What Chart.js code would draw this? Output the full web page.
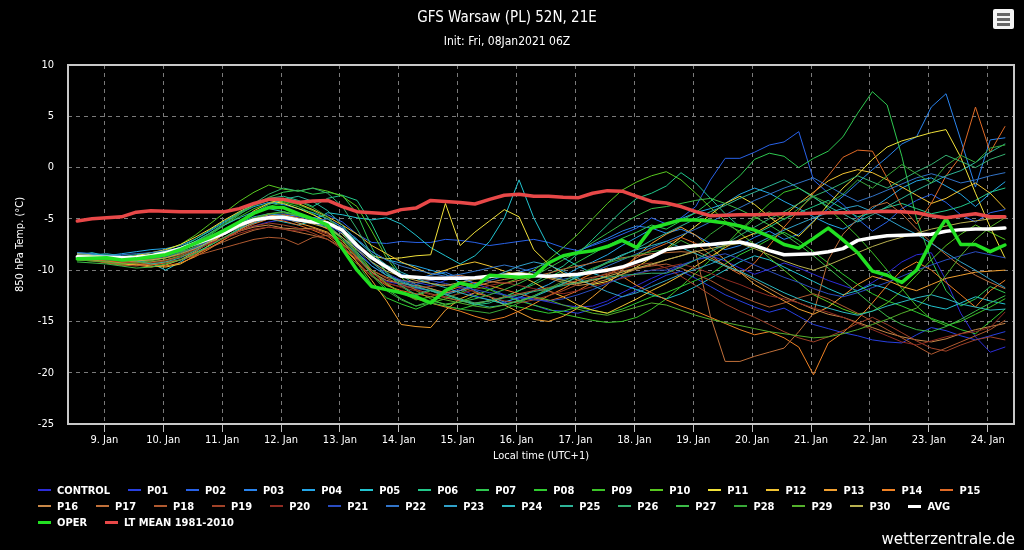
<!DOCTYPE html>
<html>
<head>
<meta charset="utf-8">
<title>GFS Warsaw (PL) 52N, 21E</title>
<script src="https://cdn.jsdelivr.net/npm/chart.js@4.4.1/dist/chart.umd.min.js"></script>
<style>
  html, body { margin: 0; padding: 0; background: #000; }
  #wrap { position: relative; width: 1024px; height: 550px; background: #000; overflow: hidden; }
  #chart { position: absolute; left: 0; top: 0; }
  #legend {
    position: absolute; left: 38px; top: 482px; width: 980px;
    display: flex; flex-wrap: wrap;
    font: bold 11px 'DejaVu Sans Condensed', 'DejaVu Sans', sans-serif; color: #fff;
  }
  .item { display: flex; align-items: center; height: 16px; margin-right: 18px; white-space: nowrap; }
  .sym { width: 13px; height: 2px; margin-right: 6px; }
  .brk { flex-basis: 100%; height: 0; }
  #menu { position: absolute; left: 993px; top: 9px; width: 21px; height: 20px; background: #f4f4f4; border-radius: 2px; }
  #menu div { position: absolute; left: 4px; width: 13px; height: 3px; background: #666; }
  #credit { position: absolute; right: 9px; top: 530px; font: 15px 'DejaVu Sans', sans-serif; color: #fff; }
</style>
</head>
<body>
<div id="wrap">
  <canvas id="chart" width="1024" height="550"></canvas>
  <div id="menu"><div style="top:4px"></div><div style="top:9px"></div><div style="top:14px"></div></div>
  <div id="legend"></div>
  <div id="credit">wetterzentrale.de</div>
</div>
<script>
// hours after 9 Jan 00:00 local time, 6-hourly steps
const HOURS = [-11, -5, 1, 7, 13, 19, 25, 31, 37, 43, 49, 55, 61, 67, 73, 79,
  85, 91, 97, 103, 109, 115, 121, 127, 133, 139, 145, 151, 157, 163, 169, 175,
  181, 187, 193, 199, 205, 211, 217, 223, 229, 235, 241, 247, 253, 259, 265, 271,
  277, 283, 289, 295, 301, 307, 313, 319, 325, 331, 337, 343, 349, 355, 361, 367];
const DAY_TICKS = [0, 24, 48, 72, 96, 120, 144, 168, 192, 216, 240, 264, 288, 312, 336, 360];
const DAY_LABELS = ['9. Jan', '10. Jan', '11. Jan', '12. Jan', '13. Jan', '14. Jan', '15. Jan', '16. Jan',
  '17. Jan', '18. Jan', '19. Jan', '20. Jan', '21. Jan', '22. Jan', '23. Jan', '24. Jan'];

const CONTROL = [-8.8,-8.9,-9.0,-9.1,-9.0,-8.9,-8.7, -8.3,-7.9,-7.3,-6.8,-6.2,-5.7,-5.3,-5.1, -5.2,-5.4,-5.6,-6.8, -8.5,-10.2,-11.1,-11.4,-11.8,
  -12.0,-12.3,-11.8,-12.5,-12.9,-13.2,-12.6,-12.8,-13.1,-13.4,-13.6,-13.5,-13.0,-12.2,-11.5,-10.8,
  -10.2,-9.6,-9.0,-8.6,-9.1,-9.8,-10.4,-9.9,-9.3,-9.8,-10.4,-11.0,-11.5,-12.0,-11.2,-10.3,-9.2,-8.5,-8.3,-11.0,-14.2,-16.5,-18.0,-17.5];
const P01 = [-8.6,-8.7,-8.9,-9.0,-9.2,-9.0,-8.6, -8.0,-7.6,-7.2,-6.5,-5.8,-5.2,-4.7,-4.5, -4.8,-5.0,-5.4,-6.5, -8.0,-9.6,-10.5,-11.0,-11.2,
  -11.5,-11.0,-10.6,-11.3,-11.8,-12.4,-12.9,-13.4,-13.9,-14.0,-14.2,-13.8,-13.3,-12.6,-12.0,-11.2,
  -10.5,-10.1,-10.8,-11.6,-12.4,-13.0,-13.6,-14.1,-13.7,-14.5,-15.3,-15.7,-16.1,-16.4,-16.8,-17.0,-17.1,-16.3,-15.6,-15.9,-16.4,-16.8,-16.4,-16.0];
const P02 = [-8.5,-8.6,-8.8,-8.9,-8.8,-8.6,-8.4, -8.0,-7.4,-6.7,-6.1,-5.5,-5.0,-4.6,-4.9, -5.1,-4.9,-4.6,-5.3, -6.5,-7.3,-7.4,-7.2,-7.3,
  -7.3,-7.0,-7.1,-7.3,-7.6,-7.4,-7.2,-7.0,-7.3,-7.8,-8.1,-7.6,-7.1,-6.5,-5.9,-4.9,
  -5.5,-4.9,-3.8,-1.2,0.9,0.9,1.5,2.2,2.5,3.5,-1.2,-2.5,-3.6,-5.0,-6.2,-5.3,-4.0,-3.2,-2.6,-3.4,-4.6,-5.3,-4.4,-4.1];
const P03 = [-8.4,-8.5,-8.6,-8.7,-8.9,-8.7,-8.5, -8.2,-7.8,-7.0,-6.4,-5.9,-5.4,-5.0,-4.8, -4.6,-4.9,-5.3,-6.0, -7.4,-8.9,-9.8,-10.4,-10.8,
  -10.5,-10.2,-10.8,-11.3,-11.0,-10.6,-10.2,-9.8,-9.3,-8.7,-8.2,-7.5,-6.9,-6.2,-5.7,-5.9,
  -6.4,-6.0,-6.6,-7.4,-8.0,-7.6,-6.8,-6.2,-7.0,-6.5,-5.2,-4.0,-2.8,-1.5,-0.2,1.0,2.3,3.0,5.9,7.2,2.7,-1.9,2.7,2.9];
const P04 = [-8.3,-8.4,-8.6,-8.4,-8.2,-8.0,-7.9, -7.6,-7.0,-6.2,-5.3,-4.5,-3.8,-3.4,-3.6, -4.0,-4.4,-5.0,-5.8, -7.0,-8.2,-9.0,-9.3,-9.6,
  -10.0,-10.4,-11.2,-12.0,-12.6,-13.1,-12.7,-12.0,-11.4,-10.6,-9.8,-9.2,-8.5,-7.6,-6.8,-6.0,
  -5.5,-5.0,-4.4,-4.0,-3.5,-2.6,-2.0,-2.5,-3.3,-4.0,-4.8,-5.5,-6.0,-5.2,-4.0,-3.0,-2.0,-1.3,-1.0,-1.8,-2.6,-3.8,-2.5,-1.4];
const P05 = [-8.5,-8.3,-8.6,-8.8,-9.0,-9.3,-10.0, -9.2,-8.3,-7.6,-6.8,-6.0,-5.4,-5.0,-5.3, -5.6,-5.2,-4.4,-4.6, -4.9,-5.1,-4.9,-5.5,-6.6,
  -7.8,-8.6,-9.4,-8.6,-7.2,-4.9,-1.2,-4.9,-7.7,-8.8,-9.6,-10.3,-10.8,-11.4,-11.9,-12.4,
  -12.8,-12.3,-11.6,-10.8,-10.0,-9.2,-8.6,-9.0,-9.7,-10.4,-11.1,-11.8,-12.4,-12.0,-11.4,-11.8,-12.5,-13.0,-13.5,-13.8,-13.2,-12.6,-13.0,-13.3];
const P06 = [-8.7,-8.6,-8.5,-8.7,-8.5,-8.3,-8.2, -7.8,-7.0,-6.1,-5.2,-4.4,-3.6,-3.0,-2.8, -3.2,-3.8,-3.0,-2.7, -3.2,-5.5,-8.4,-10.5,-11.4,
  -11.8,-12.3,-12.9,-13.4,-13.2,-12.6,-12.0,-11.2,-10.4,-9.6,-8.4,-7.0,-5.6,-4.2,-3.0,-2.5,
  -1.8,-0.5,-1.5,-3.0,-4.5,-5.8,-6.5,-5.8,-5.0,-4.4,-3.8,-3.2,-4.0,-4.8,-4.4,-3.9,-3.5,-4.0,-4.5,-4.2,-3.8,-3.2,-2.4,-2.0];
const P07 = [-8.9,-9.0,-9.2,-9.4,-9.1,-8.9,-8.6, -8.2,-7.5,-6.6,-5.6,-4.6,-3.6,-2.9,-2.4, -2.2,-2.6,-2.4,-2.7, -4.5,-7.8,-10.3,-11.6,-12.5,
  -12.0,-12.6,-13.0,-13.3,-13.0,-12.6,-12.0,-11.4,-10.7,-10.0,-9.2,-8.4,-7.6,-6.9,-6.3,-5.6,
  -6.0,-5.2,-4.4,-3.3,-2.0,-0.8,0.8,1.4,1.1,0.0,0.9,1.6,3.0,5.3,7.4,6.1,1.1,-5.0,-9.0,-12.0,-13.5,-12.8,-11.6,-12.2];
const P08 = [-9.0,-9.1,-9.2,-9.3,-9.5,-9.2,-9.0, -8.6,-8.0,-7.2,-6.3,-5.4,-4.5,-3.8,-3.4, -3.8,-4.5,-5.5,-7.0, -9.3,-11.4,-12.7,-13.3,-13.8,
  -13.2,-13.5,-13.8,-13.4,-12.9,-13.3,-13.6,-13.9,-14.2,-14.0,-13.6,-13.9,-14.2,-13.8,-13.2,-12.6,
  -12.2,-11.6,-11.0,-10.4,-9.4,-8.5,-7.8,-7.0,-6.3,-7.1,-8.2,-9.3,-10.4,-11.4,-12.3,-13.0,-13.5,-14.1,-14.7,-15.2,-15.8,-16.2,-15.0,-13.8];
const P09 = [-8.8,-8.9,-9.1,-9.2,-9.0,-8.8,-8.4, -7.9,-7.2,-6.4,-5.6,-4.8,-4.0,-3.5,-3.3, -3.6,-4.2,-5.0,-6.2, -8.2,-10.0,-11.3,-12.2,-12.7,
  -13.2,-12.8,-12.2,-11.6,-11.9,-12.5,-13.0,-13.4,-13.8,-14.3,-14.6,-14.9,-15.1,-15.0,-14.6,-13.8,
  -12.8,-11.6,-10.3,-9.0,-7.6,-6.1,-4.8,-3.5,-2.4,-2.0,-2.8,-4.0,-5.3,-6.7,-8.3,-10.0,-11.8,-13.5,-14.8,-15.4,-15.0,-14.3,-13.6,-12.8];
const P10 = [-8.6,-8.7,-8.9,-8.8,-8.7,-8.5,-8.1, -7.5,-6.6,-5.5,-4.4,-3.3,-2.4,-1.7,-2.1, -2.3,-2.0,-2.3,-2.8, -3.8,-6.2,-8.8,-10.7,-12.0,
  -12.8,-13.4,-13.1,-12.5,-11.9,-11.3,-10.8,-10.0,-9.0,-7.8,-6.5,-5.0,-3.5,-2.2,-1.4,-0.8,
  -0.4,-1.2,-2.5,-3.9,-5.2,-6.4,-7.5,-8.8,-10.0,-11.2,-12.4,-13.1,-13.8,-14.3,-14.0,-13.2,-12.0,-10.5,-9.0,-7.6,-6.5,-5.6,-6.3,-7.0];
const P11 = [-8.4,-8.5,-8.7,-8.9,-8.6,-8.3,-8.0, -7.5,-6.8,-6.0,-5.1,-4.3,-3.6,-3.2,-3.5, -4.0,-4.6,-5.3,-6.5, -7.8,-8.6,-8.9,-8.8,-8.6,
  -8.5,-3.5,-7.6,-6.3,-5.2,-4.1,-4.8,-8.0,-9.4,-10.3,-11.0,-11.4,-11.1,-10.4,-9.7,-8.8,
  -7.9,-6.8,-5.7,-4.6,-3.5,-2.8,-3.6,-4.8,-5.9,-6.7,-5.3,-3.6,-2.0,-0.7,0.8,2.0,2.6,3.0,3.4,3.7,1.0,-2.5,-5.8,-8.8];
const P12 = [-8.9,-9.0,-9.3,-9.5,-9.4,-9.6,-9.7, -9.4,-8.6,-7.5,-6.4,-5.3,-4.2,-3.5,-3.2, -3.5,-4.1,-4.8,-5.6, -6.5,-7.6,-8.4,-9.2,-9.8,
  -10.4,-10.0,-9.5,-9.2,-9.6,-10.1,-10.5,-11.2,-12.0,-12.6,-13.4,-13.9,-14.2,-13.5,-12.8,-12.0,
  -11.3,-10.5,-9.6,-8.7,-7.8,-7.0,-6.4,-5.6,-4.7,-3.5,-2.4,-1.3,-0.6,-0.2,-0.5,-1.2,-1.9,-2.7,-3.5,-3.0,-2.2,-1.5,-2.5,-4.0];
const P13 = [-8.7,-8.8,-9.0,-9.3,-9.5,-9.7,-9.5, -9.0,-8.2,-7.3,-6.5,-5.7,-5.0,-4.6,-4.9, -5.4,-5.8,-6.3,-7.5, -9.2,-11.0,-13.0,-15.3,-15.5,
  -15.6,-13.9,-12.8,-12.2,-12.6,-13.4,-14.1,-14.8,-15.0,-14.5,-13.7,-12.6,-11.4,-10.0,-8.6,-7.4,
  -6.5,-5.8,-6.6,-7.8,-9.0,-10.2,-11.4,-12.2,-13.0,-13.8,-14.3,-13.6,-12.5,-11.4,-10.6,-11.0,-11.6,-12.0,-11.4,-10.8,-10.5,-10.2,-10.1,-10.0];
const P14 = [-8.6,-8.8,-9.1,-9.3,-9.2,-9.4,-9.6, -9.3,-8.7,-7.9,-7.0,-6.1,-5.3,-4.8,-4.6, -4.9,-5.3,-6.0,-7.2, -8.7,-10.2,-11.4,-12.2,-12.8,
  -13.2,-13.6,-14.0,-14.5,-14.9,-14.6,-14.0,-13.3,-12.5,-11.8,-11.0,-10.3,-9.8,-10.6,-11.5,-12.2,
  -12.9,-13.5,-14.0,-14.6,-15.2,-15.8,-16.3,-16.0,-16.6,-17.5,-20.2,-17.1,-16.1,-14.8,-13.2,-11.5,-10.0,-9.2,-10.0,-11.2,-12.4,-13.6,-12.0,-11.0];
const P15 = [-8.8,-8.9,-9.1,-9.2,-9.4,-9.5,-9.3, -9.0,-8.5,-7.8,-7.0,-6.2,-5.5,-5.0,-5.2, -5.6,-6.1,-6.7,-7.8, -9.2,-10.6,-11.5,-12.0,-12.3,
  -12.6,-12.1,-11.6,-11.2,-11.5,-11.9,-12.3,-12.7,-13.0,-12.6,-12.0,-11.2,-10.5,-9.7,-8.8,-8.0,
  -7.4,-6.8,-7.4,-8.5,-9.6,-10.4,-9.3,-7.6,-5.8,-4.2,-2.5,-0.8,1.0,1.7,1.6,-1.0,-3.8,-5.5,-3.5,-0.8,1.1,5.9,1.5,4.0];
const P16 = [-8.9,-9.0,-9.2,-9.3,-9.1,-9.0,-8.8, -8.5,-8.0,-7.4,-6.8,-6.2,-5.8,-5.6,-5.9, -6.0,-5.9,-6.4,-7.4, -8.8,-10.2,-11.0,-11.3,-11.5,
  -11.8,-12.2,-12.0,-11.6,-11.2,-10.9,-10.7,-10.5,-10.8,-11.2,-11.5,-11.3,-10.9,-10.4,-9.9,-9.5,
  -9.0,-8.6,-8.1,-8.8,-9.5,-10.2,-11.0,-11.8,-12.6,-13.2,-13.8,-14.3,-14.6,-15.1,-15.6,-16.1,-16.5,-16.8,-17.0,-16.7,-16.2,-15.8,-15.5,-15.2];
const P17 = [-8.7,-8.8,-9.0,-9.1,-9.3,-9.2,-9.0, -8.7,-8.3,-7.8,-7.2,-6.6,-6.1,-5.8,-6.0, -6.3,-6.6,-7.0,-7.8, -8.9,-10.0,-10.7,-11.0,-11.2,
  -11.0,-10.7,-10.5,-10.8,-11.1,-11.3,-11.0,-10.6,-10.3,-9.9,-9.6,-9.3,-9.0,-8.8,-8.6,-8.4,
  -8.3,-8.2,-8.3,-14.5,-18.9,-18.9,-18.4,-18.0,-17.6,-16.0,-14.2,-9.0,-6.5,-5.0,-3.8,-3.4,-4.5,-6.0,-7.3,-8.5,-9.6,-10.5,-11.2,-11.8];
const P18 = [-9.0,-9.1,-9.3,-9.5,-9.6,-9.4,-9.2, -9.0,-8.6,-8.2,-7.8,-7.4,-7.0,-6.8,-6.9, -7.5,-6.8,-6.6,-7.4, -8.8,-10.0,-10.8,-11.4,-11.9,
  -12.3,-12.7,-13.0,-13.2,-13.0,-12.6,-12.3,-12.0,-11.7,-11.4,-11.0,-10.7,-10.4,-10.1,-9.8,-9.6,
  -9.4,-9.8,-10.4,-11.0,-11.8,-12.5,-13.1,-13.6,-13.2,-12.7,-12.3,-12.8,-13.5,-14.2,-15.0,-15.8,-16.6,-17.4,-18.2,-17.6,-17.0,-16.4,-15.8,-14.9];
const P19 = [-8.8,-8.9,-9.0,-9.2,-9.3,-9.3,-9.1, -8.7,-8.1,-7.4,-6.8,-6.2,-5.7,-5.4,-5.6, -5.9,-6.4,-7.0,-8.0, -9.4,-10.6,-11.3,-11.6,-11.7,
  -11.6,-11.4,-11.7,-12.1,-12.6,-13.0,-13.2,-12.9,-12.5,-12.0,-11.4,-10.8,-10.3,-9.9,-9.5,-9.3,
  -9.8,-10.6,-11.5,-12.4,-13.3,-14.0,-14.6,-15.3,-16.0,-16.6,-17.0,-16.5,-15.9,-15.2,-14.6,-15.3,-16.1,-16.9,-17.6,-17.9,-17.3,-16.8,-16.5,-16.8];
const P20 = [-8.6,-8.7,-8.8,-9.0,-9.1,-9.0,-8.8, -8.5,-8.0,-7.4,-6.9,-6.4,-6.0,-5.8,-6.0, -6.2,-6.0,-6.5,-7.6, -9.0,-10.3,-11.2,-11.7,-12.0,
  -12.4,-12.6,-12.3,-11.9,-11.5,-11.2,-11.5,-11.8,-12.1,-12.3,-12.0,-11.6,-11.2,-10.8,-10.4,-10.0,
  -9.7,-9.4,-9.8,-10.3,-10.9,-11.4,-12.0,-12.5,-12.8,-13.2,-13.7,-14.1,-14.6,-15.2,-15.8,-16.4,-17.0,-17.3,-16.9,-16.5,-16.2,-16.0,-15.6,-14.1];
const P21 = [-8.5,-8.6,-8.7,-8.8,-8.9,-8.8,-8.6, -8.3,-7.8,-7.1,-6.5,-5.8,-5.2,-4.9,-4.8, -5.0,-5.3,-5.6,-6.4, -7.8,-9.3,-10.3,-11.0,-11.4,
  -11.0,-11.3,-11.6,-11.9,-12.2,-12.4,-12.7,-12.9,-13.0,-12.8,-12.4,-11.9,-11.3,-10.7,-10.3,-10.0,
  -10.0,-9.5,-9.0,-8.7,-8.4,-8.9,-9.5,-10.1,-10.7,-11.2,-11.8,-12.3,-12.6,-12.2,-11.7,-11.2,-10.6,-10.0,-9.5,-9.0,-8.6,-8.2,-8.5,-8.8];
const P22 = [-8.3,-8.4,-8.6,-8.5,-8.4,-8.3,-8.1, -7.8,-7.3,-6.7,-6.1,-5.5,-5.0,-4.8,-5.0, -5.3,-5.2,-5.0,-5.8, -7.0,-8.2,-9.0,-9.6,-10.0,
  -10.3,-10.6,-10.4,-10.1,-9.8,-9.5,-9.8,-10.2,-10.6,-10.9,-10.6,-10.2,-9.6,-9.0,-8.4,-7.8,
  -7.2,-6.6,-6.0,-5.3,-4.6,-3.9,-3.2,-2.6,-2.0,-1.5,-1.0,-1.8,-2.6,-3.3,-2.8,-2.2,-1.6,-1.0,-0.6,-1.0,-1.5,-1.2,-0.8,-0.5];
const P23 = [-8.6,-8.5,-8.4,-8.6,-8.8,-8.7,-8.5, -8.1,-7.5,-6.8,-6.1,-5.4,-4.8,-4.5,-4.7, -5.0,-5.4,-5.8,-6.8, -8.3,-9.6,-10.5,-11.1,-11.6,
  -12.0,-12.4,-12.0,-11.4,-10.8,-10.2,-9.6,-9.2,-9.5,-10.1,-10.8,-11.5,-12.1,-12.6,-12.2,-11.6,
  -11.0,-10.4,-9.9,-9.4,-8.8,-8.2,-7.5,-6.8,-6.1,-5.5,-4.9,-4.4,-4.0,-3.7,-4.3,-5.0,-5.8,-6.5,-7.4,-8.3,-9.2,-10.0,-10.9,-11.7];
const P24 = [-8.8,-8.6,-8.8,-9.0,-8.9,-8.7,-8.4, -7.9,-7.2,-6.4,-5.6,-4.9,-4.3,-4.0,-4.3, -4.7,-5.1,-5.5,-6.1, -7.1,-8.4,-9.5,-10.2,-10.8,
  -11.3,-11.7,-12.2,-12.6,-12.9,-13.3,-13.0,-12.6,-12.0,-11.3,-10.6,-9.9,-9.2,-8.5,-8.0,-7.6,
  -7.2,-7.8,-8.4,-9.0,-9.6,-10.1,-10.8,-11.5,-12.2,-12.8,-13.3,-13.7,-14.1,-14.4,-14.0,-13.5,-13.1,-12.7,-12.4,-12.8,-13.3,-13.6,-13.9,-13.8];
const P25 = [-8.9,-8.8,-8.7,-8.9,-9.1,-9.4,-9.2, -8.8,-8.1,-7.2,-6.3,-5.3,-4.4,-3.6,-3.1, -2.8,-3.3,-4.2,-5.6, -7.4,-9.2,-10.5,-11.2,-11.7,
  -12.0,-12.4,-12.9,-13.3,-13.6,-13.4,-13.0,-12.5,-11.9,-11.3,-10.7,-10.0,-9.3,-8.6,-7.9,-7.1,
  -6.4,-5.7,-5.0,-4.3,-3.7,-3.0,-2.4,-1.8,-1.2,-2.0,-2.9,-3.8,-4.5,-5.3,-4.6,-3.8,-3.0,-2.2,-1.5,-0.8,-0.3,0.5,1.5,2.3];
const P26 = [-8.7,-8.9,-9.0,-8.9,-8.7,-8.5,-8.3, -7.9,-7.3,-6.4,-5.4,-4.4,-3.5,-2.6,-2.0, -2.3,-2.0,-2.5,-3.8, -6.0,-8.5,-10.2,-11.5,-12.4,
  -11.9,-12.3,-12.8,-13.2,-13.0,-12.7,-12.4,-12.1,-11.8,-11.5,-11.2,-10.9,-10.7,-10.5,-10.4,-10.3,
  -10.3,-9.7,-9.0,-8.2,-7.5,-6.6,-5.8,-5.0,-4.3,-3.5,-2.8,-2.2,-1.5,-0.8,-1.4,-2.0,-1.2,-0.4,0.3,1.2,0.6,0.0,0.8,1.3];
const P27 = [-9.2,-9.3,-9.4,-9.6,-9.8,-9.7,-9.4, -9.0,-8.4,-7.6,-6.8,-5.9,-5.1,-4.5,-4.3, -4.6,-5.0,-5.8,-7.0, -8.6,-10.4,-11.8,-12.8,-13.5,
  -13.0,-13.3,-13.1,-12.8,-12.4,-11.9,-11.3,-10.6,-9.8,-9.0,-8.2,-7.3,-6.4,-5.5,-4.7,-4.0,
  -3.8,-3.5,-3.2,-3.0,-3.5,-4.1,-4.8,-5.6,-6.5,-7.5,-8.6,-9.8,-11.0,-12.2,-13.4,-14.5,-15.3,-15.8,-16.0,-15.5,-14.8,-14.0,-13.2,-12.5];
const P28 = [-8.8,-8.9,-9.0,-9.1,-9.0,-8.9,-8.6, -8.1,-7.4,-6.5,-5.5,-4.5,-3.7,-3.2,-3.0, -3.3,-3.9,-4.8,-6.3, -8.4,-10.5,-12.0,-12.9,-13.5,
  -13.2,-13.5,-13.8,-14.0,-14.2,-13.8,-13.2,-12.5,-11.8,-11.1,-10.4,-9.8,-9.3,-8.9,-8.5,-8.2,
  -8.0,-7.1,-7.8,-6.5,-5.5,-6.2,-5.0,-4.3,-5.1,-4.0,-2.8,-3.5,-2.6,-1.2,-2.0,-0.8,0.3,-0.6,-1.5,0.2,1.2,0.5,1.9,2.2];
const P29 = [-9.0,-9.1,-9.2,-9.4,-9.3,-9.1,-8.8, -8.3,-7.7,-7.0,-6.2,-5.5,-4.9,-4.5,-4.4, -4.7,-5.1,-5.7,-6.8, -8.4,-10.0,-11.3,-12.2,-12.9,
  -12.6,-12.9,-13.2,-13.5,-13.7,-13.4,-13.0,-12.6,-12.9,-13.4,-13.8,-14.2,-14.4,-14.0,-13.6,-13.2,
  -13.4,-13.9,-14.4,-14.8,-15.1,-15.4,-15.7,-16.0,-16.2,-16.4,-16.6,-16.5,-16.2,-15.8,-15.3,-14.8,-14.2,-13.7,-12.3,-10.5,-8.6,-7.0,-5.8,-4.9];
const P30 = [-8.5,-8.6,-8.8,-9.0,-9.1,-9.0,-8.8, -8.4,-7.9,-7.2,-6.5,-5.8,-5.2,-4.8,-4.9, -5.2,-5.5,-5.9,-6.8, -8.0,-9.2,-10.1,-10.6,-11.0,
  -11.3,-11.5,-11.2,-10.9,-10.6,-10.4,-10.2,-10.4,-10.7,-11.0,-11.3,-11.0,-10.6,-10.2,-9.8,-9.4,
  -9.0,-8.6,-8.2,-7.9,-7.6,-7.4,-7.9,-8.5,-9.1,-9.6,-10.0,-9.5,-8.9,-8.3,-7.7,-7.2,-6.8,-6.4,-6.0,-5.7,-5.4,-5.2,-5.0,-4.9];

const AVG = [-8.7,-8.75,-8.75,-8.8,-8.75,-8.6,-8.3, -7.9,-7.4,-6.95,-6.4,-5.6,-5.1,-4.9,-4.85, -5.1,-5.3,-5.4,-6.1, -7.6,-8.8,-9.7,-10.6,-10.7,
  -10.8,-10.8,-10.8,-10.75,-10.6,-10.5,-10.4,-10.55,-10.6,-10.5,-10.4,-10.2,-10.0,-9.7,-9.2,-8.7,
  -8.0,-7.8,-7.6,-7.5,-7.35,-7.25,-7.6,-8.1,-8.5,-8.45,-8.4,-8.2,-7.9,-7.1,-6.85,-6.65,-6.6,-6.55,-6.5,-6.2,-6.05,-6.0,-6.0,-5.9];
const OPER = [-8.9,-8.85,-8.8,-9.0,-8.9,-8.7,-8.5, -8.0,-7.4,-6.8,-6.1,-5.3,-4.45,-3.9,-3.9, -4.5,-5.0,-5.6,-7.9, -10.0,-11.6,-11.9,-12.2,-12.6,
  -13.2,-12.0,-11.25,-11.6,-10.5,-10.6,-10.7,-10.6,-9.3,-8.6,-8.3,-8.1,-7.7,-7.1,-7.8,-5.9,
  -5.5,-5.1,-5.1,-5.2,-5.4,-5.7,-6.1,-6.7,-7.5,-7.85,-6.9,-5.9,-7.05,-8.3,-10.1,-10.5,-11.2,-10.0,-7.2,-5.0,-7.5,-7.5,-8.2,-7.55];
const LT_MEAN = [-5.2,-5.0,-4.9,-4.8,-4.35,-4.2,-4.25, -4.3,-4.3,-4.3,-4.3,-4.0,-3.5,-3.1,-3.1, -3.4,-3.25,-3.2,-3.8, -4.3,-4.4,-4.5,-4.1,-3.95,
  -3.2,-3.3,-3.4,-3.55,-3.1,-2.7,-2.6,-2.8,-2.8,-2.9,-2.95,-2.5,-2.25,-2.3,-2.8,-3.3,
  -3.45,-3.8,-4.3,-4.7,-4.65,-4.6,-4.6,-4.55,-4.5,-4.5,-4.45,-4.4,-4.4,-4.35,-4.3,-4.25,-4.3,-4.4,-4.7,-4.9,-4.7,-4.5,-4.8,-4.8];

const MEMBER_NAMES = ['CONTROL', 'P01', 'P02', 'P03', 'P04', 'P05', 'P06', 'P07', 'P08', 'P09', 'P10',
  'P11', 'P12', 'P13', 'P14', 'P15', 'P16', 'P17', 'P18', 'P19', 'P20',
  'P21', 'P22', 'P23', 'P24', 'P25', 'P26', 'P27', 'P28', 'P29', 'P30'];
const MEMBERS = [CONTROL, P01, P02, P03, P04, P05, P06, P07, P08, P09, P10,
  P11, P12, P13, P14, P15, P16, P17, P18, P19, P20,
  P21, P22, P23, P24, P25, P26, P27, P28, P29, P30];
const MEMBER_COLORS = ['#2c2cd8', '#2840e0', '#2862e8', '#2a84ee', '#24a6e8', '#22c4d0', '#22c88a', '#2ec850',
  '#30cc30', '#3cc428', '#58c820', '#f2e23a', '#f2c432', '#f2a030', '#f08224', '#e06a26',
  '#c88848', '#c0703a', '#b05a30', '#a04228', '#902c22', '#2a4cc0', '#3274c8', '#30a0c8',
  '#2cb8c0', '#2eb498', '#34b070', '#3cbc48', '#38a838', '#54b02c', '#b8b050'];

const FONT = "'DejaVu Sans Condensed', 'DejaVu Sans', sans-serif";

function points(values) {
  return values.map((v, i) => ({ x: HOURS[i], y: v }));
}

const datasets = MEMBERS.map((vals, k) => ({
  label: MEMBER_NAMES[k],
  data: points(vals),
  borderColor: MEMBER_COLORS[k],
  borderWidth: 1,
  order: 100 - k
}));
datasets.push({ label: 'AVG', data: points(AVG), borderColor: '#ffffff', borderWidth: 3.5, order: 3 });
datasets.push({ label: 'OPER', data: points(OPER), borderColor: '#22e022', borderWidth: 3.5, order: 2 });
datasets.push({ label: 'LT MEAN 1981-2010', data: points(LT_MEAN), borderColor: '#e84848', borderWidth: 3.5, order: 1 });
datasets.forEach(d => {
  d.pointRadius = 0;
  d.tension = 0;
  d.fill = false;
  d.borderJoinStyle = 'round';
  d.borderCapStyle = 'round';
});

// light grey frame around the plot area
const plotFrame = {
  id: 'plotFrame',
  afterDatasetsDraw(chart) {
    const { ctx, chartArea: a } = chart;
    ctx.save();
    ctx.strokeStyle = '#c8c8c8';
    ctx.lineWidth = 2;
    ctx.strokeRect(a.left, a.top, a.right - a.left, a.bottom - a.top);
    ctx.restore();
  }
};

Chart.defaults.font.family = FONT;

const chart = new Chart(document.getElementById('chart'), {
  type: 'line',
  data: { datasets },
  options: {
    responsive: false,
    animation: false,
    devicePixelRatio: 1,
    layout: { padding: { left: 0, right: 10, top: 0, bottom: 76 } },
    plugins: {
      legend: { display: false },
      tooltip: { enabled: false },
      title: {
        display: true, text: 'GFS Warsaw (PL) 52N, 21E', color: '#ffffff',
        font: { size: 15, weight: 'normal' }, padding: { top: 9, bottom: 8 }
      },
      subtitle: {
        display: true, text: 'Init: Fri, 08Jan2021 06Z', color: '#ffffff',
        font: { size: 12 }, padding: { top: 0, bottom: 15.6 }
      }
    },
    scales: {
      x: {
        type: 'linear', min: -14.8, max: 370.7,
        afterBuildTicks: s => { s.ticks = DAY_TICKS.map(v => ({ value: v })); },
        afterFit: s => { s.height = 50; },
        ticks: {
          color: '#ffffff', font: { size: 11 }, padding: 2, maxRotation: 0, autoSkip: false,
          callback: (v, i) => DAY_LABELS[i]
        },
        grid: { color: '#7a7a7a', lineWidth: 1, tickLength: 8, tickColor: '#c0c0c0', tickBorderDash: [] },
        border: { display: false, dash: [4, 4] },
        title: { display: true, text: 'Local time (UTC+1)', color: '#ffffff', font: { size: 11 }, padding: { top: 0, bottom: 11.4 } }
      },
      y: {
        min: -25, max: 10,
        afterFit: s => { s.width = 68; },
        ticks: { stepSize: 5, color: '#ffffff', font: { size: 11 }, padding: 14 },
        grid: { color: '#7a7a7a', lineWidth: 1, drawTicks: false },
        border: { display: false, dash: [4, 4] },
        title: { display: true, text: '850 hPa Temp. (°C)', color: '#ffffff', font: { size: 11 }, padding: { top: 13.4, bottom: 0 } }
      }
    }
  },
  plugins: [plotFrame]
});

// legend laid out in rows like the original: members, then P16.. AVG, then OPER / LT MEAN
const legendOrder = [...MEMBER_NAMES, 'AVG', 'OPER', 'LT MEAN 1981-2010'];
const breakAfter = ['P15', 'AVG'];
const legendEl = document.getElementById('legend');
legendOrder.forEach(name => {
  const ds = chart.data.datasets.find(d => d.label === name);
  const item = document.createElement('div');
  item.className = 'item';
  const sym = document.createElement('span');
  sym.className = 'sym';
  sym.style.background = ds.borderColor;
  if (ds.borderWidth > 2) sym.style.height = '3px';
  const txt = document.createElement('span');
  txt.textContent = name;
  item.appendChild(sym);
  item.appendChild(txt);
  legendEl.appendChild(item);
  if (breakAfter.includes(name)) {
    const br = document.createElement('div');
    br.className = 'brk';
    legendEl.appendChild(br);
  }
});
</script>
</body>
</html>
